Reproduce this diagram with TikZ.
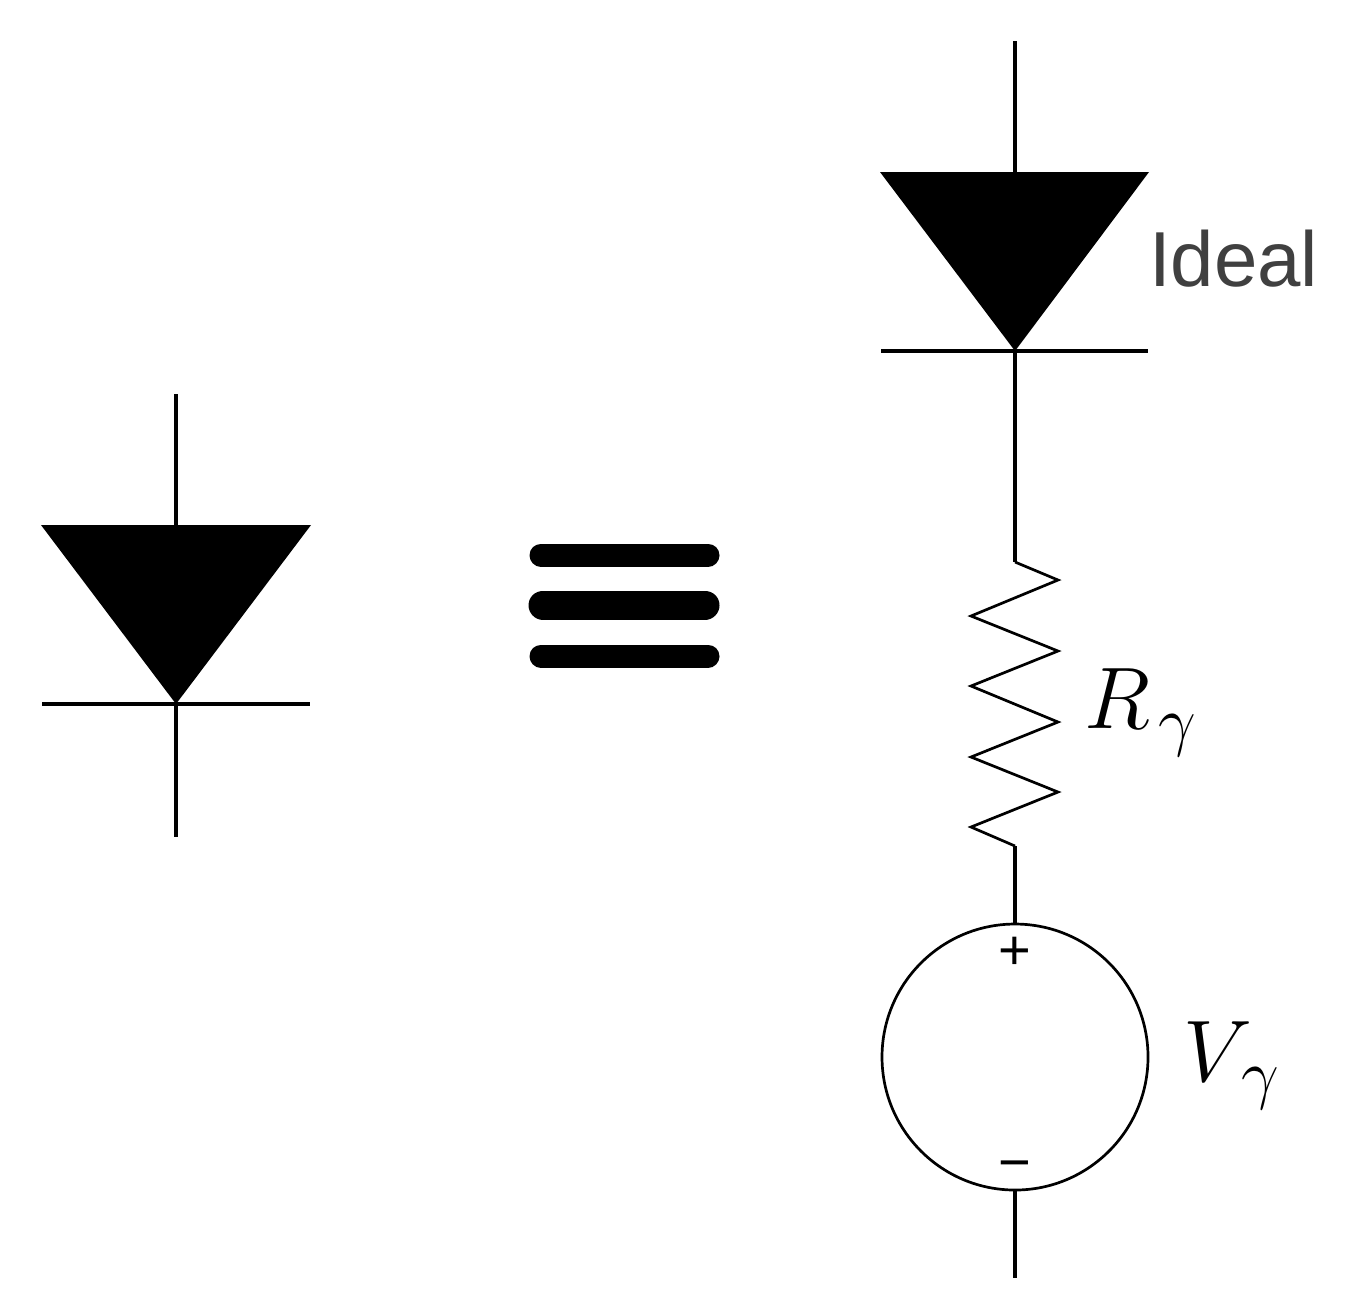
\documentclass[tikz,border=0pt]{standalone}
\usepackage{amsmath}
\usepackage{fontspec}
\setsansfont{Liberation Sans}
\usetikzlibrary{calc}
\tikzset{
  wire/.style={line width=.32mm},
  thin wire/.style={line width=.27mm},
  bar/.style={line width=2.3mm, line cap=round},
  anode/.style={fill=black, draw=none},
  mathlabel/.style={font=\fontsize{9.6mm}{11mm}\selectfont, anchor=base west},
  polarity/.style={font=\sffamily\fontsize{5.6mm}{6mm}\selectfont},
  every node/.style={inner sep=0pt, outer sep=0pt}
}
\newcommand{\subgamma}{\kern.9mm\raisebox{-.2mm}{\scalebox{.92}{$\scriptstyle\gamma$}}}
\begin{document}
\begin{tikzpicture}[x=.1mm, y=-.1mm]
  \useasboundingbox (0,0) rectangle (1345,1308);
  % left diode
  \coordinate (lt) at (176,394);
  \coordinate (la) at (41,525);
  \coordinate (lb) at (311,525);
  \coordinate (lk) at (176,704);
  \coordinate (lkl) at (42,704);
  \coordinate (lkr) at (310,704);
  \coordinate (lend) at (176,837);
  \fill [anode] (la) -- (lb) -- (lk) -- cycle;
  \draw [wire] (lt) -- (176,525);
  \draw [wire] (lkl) -- (lkr);
  \draw [wire] (lk) -- (lend);
  % equivalence
  \coordinate (e1a) at (541,555);
  \coordinate (e1b) at (708,555);
  \coordinate (e2a) at (543,605);
  \coordinate (e2b) at (705,605);
  \coordinate (e3a) at (541,656);
  \coordinate (e3b) at (708,656);
  \draw [bar] (e1a) -- (e1b);
  \draw [bar, line width=2.9mm] (e2a) -- (e2b);
  \draw [bar] (e3a) -- (e3b);
  % right diode
  \coordinate (rt) at (1015,41);
  \coordinate (ra) at (880,172);
  \coordinate (rb) at (1149,172);
  \coordinate (rk) at (1015,351);
  \coordinate (rkl) at (881,351);
  \coordinate (rkr) at (1148,351);
  \fill [anode] (ra) -- (rb) -- (rk) -- cycle;
  \draw [wire] (rt) -- (1015,172);
  \draw [wire] (rkl) -- (rkr);
  \node [font=\sffamily\fontsize{7.8mm}{9mm}\selectfont, text=black!75, anchor=base west] (ideal) at (1149,286) {Ideal};
  % resistor
  \coordinate (r0) at (1015,562);
  \coordinate (rend) at (1015,846);
  \draw [wire] (rk) -- (r0);
  \draw [thin wire] (r0) -- (1058,580) -- (971,616) -- (1058,651) -- (971,686) -- (1058,722)
    -- (971,757) -- (1058,792) -- (971,827) -- (rend);
  \node [mathlabel] (rlabel) at (1084,728) {$R_{\subgamma}$};
  % source
  \node [circle, draw, thin wire, minimum size=26.6mm] (src) at (1015,1057) {};
  \draw [wire] (rend) -- (src.north);
  \coordinate (send) at (1015,1278);
  \draw [wire] (src.south) -- (send);
  \node [polarity] (plus) at (1015,953) {+};
  \node [polarity] (minus) at (1015,1171) {−};
  \node [mathlabel] (vlabel) at (1183,1081) {$V_{\subgamma}$};
\end{tikzpicture}
\end{document}
